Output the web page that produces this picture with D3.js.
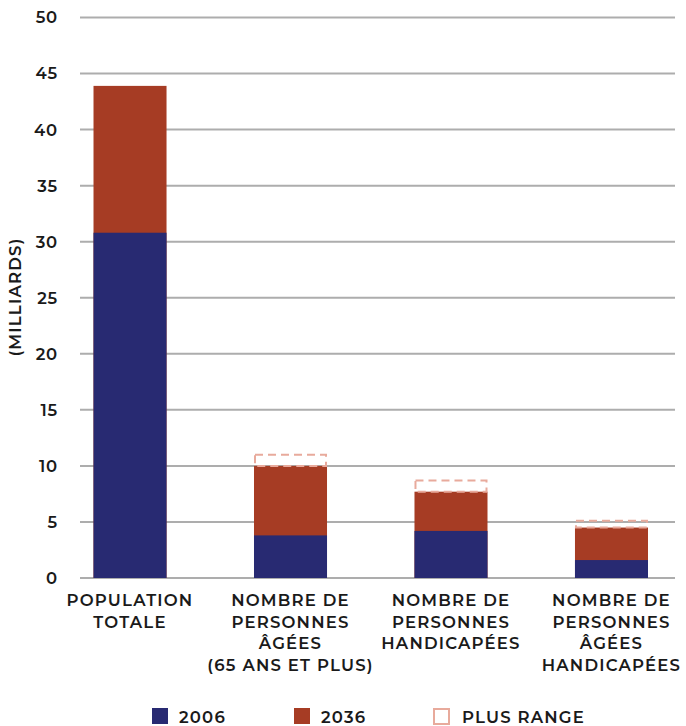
<!DOCTYPE html>
<html><head><meta charset="utf-8">
<script src="https://cdn.jsdelivr.net/npm/d3@7"></script>
<style>
html,body{margin:0;padding:0;background:#fff;}
svg{display:block;font-family:"Montserrat","Noto Sans",sans-serif;}
</style></head>
<body><svg id="c" width="686" height="726"></svg>
<script>
const categories = [
  ["POPULATION","TOTALE"],
  ["NOMBRE DE","PERSONNES","ÂGÉES","(65 ANS ET PLUS)"],
  ["NOMBRE DE","PERSONNES","HANDICAPÉES"],
  ["NOMBRE DE","PERSONNES","ÂGÉES","HANDICAPÉES"]
];
const values2006 = [30.8, 3.8, 4.2, 1.6];
const values2036 = [43.9, 10.0, 7.7, 4.5];
const plusRange = [null, 11.0, 8.7, 5.1];
const yTicks = [0,5,10,15,20,25,30,35,40,45,50];
const legendLabels = ["2006","2036","PLUS RANGE"];

const C2006 = "#282a72", C2036 = "#a63c24", CRANGE = "#e8aa9c", TXT = "#1a1a1a";
const svg = d3.select("#c");
const y = d3.scaleLinear().domain([0,50]).range([578,17.5]);
const x = d3.scaleBand().domain(d3.range(categories.length)).range([78.5,663]).paddingInner(0.545).paddingOuter(0.0935);

// grid
svg.append("g").selectAll("line").data(yTicks).join("line")
  .attr("x1",80).attr("x2",675).attr("y1",d=>y(d)).attr("y2",d=>y(d))
  .attr("stroke","#adadad").attr("stroke-width",2);

// y labels
svg.append("g").selectAll("text").data(yTicks).join("text")
  .attr("x",58).attr("y",d=>y(d)).attr("dy","0.36em").attr("text-anchor","end")
  .attr("font-size",16.5).attr("font-weight",600).attr("letter-spacing",0.8).attr("fill",TXT).text(d=>d);

svg.append("text").attr("transform","translate(21,297) rotate(-90)")
  .attr("text-anchor","middle").attr("font-size",16.5).attr("font-weight",600).attr("letter-spacing",1.2).attr("fill",TXT).text("(MILLIARDS)");

const bars = svg.append("g");
bars.selectAll("rect.b36").data(values2036).join("rect").attr("class","b36")
  .attr("x",(d,i)=>x(i)).attr("width",x.bandwidth()).attr("y",d=>y(d)).attr("height",d=>y(0)-y(d)).attr("fill",C2036);
bars.selectAll("rect.b06").data(values2006).join("rect").attr("class","b06")
  .attr("x",(d,i)=>x(i)).attr("width",x.bandwidth()).attr("y",d=>y(d)).attr("height",d=>y(0)-y(d)).attr("fill",C2006);
bars.selectAll("rect.pr").data(plusRange.map((d,i)=>({d,i})).filter(o=>o.d!=null)).join("rect").attr("class","pr")
  .attr("x",o=>x(o.i)+1).attr("width",x.bandwidth()-2).attr("y",o=>y(o.d)).attr("height",o=>y(values2036[o.i])-y(o.d))
  .attr("fill","none").attr("stroke",CRANGE).attr("stroke-width",2).attr("stroke-dasharray","8,5");

// x labels
const xl = svg.append("g");
categories.forEach((lines,i)=>{
  const t = xl.append("text").attr("text-anchor","middle").attr("font-size",16.5).attr("font-weight",600).attr("letter-spacing",1.2).attr("fill",TXT);
  lines.forEach((l,j)=>{
    t.append("tspan").attr("x",x(i)+x.bandwidth()/2).attr("y",606+j*21.6).text(l);
  });
});

// legend
const lg = svg.append("g");
const lx = [152, 294, 433];
lg.append("rect").attr("x",lx[0]).attr("y",708).attr("width",16).attr("height",16).attr("fill",C2006);
lg.append("rect").attr("x",lx[1]).attr("y",708).attr("width",16).attr("height",16).attr("fill",C2036);
lg.append("rect").attr("x",lx[2]+1).attr("y",709).attr("width",15).attr("height",15).attr("fill","none").attr("stroke",CRANGE).attr("stroke-width",2);
legendLabels.forEach((t,i)=>{
  lg.append("text").attr("x",lx[i]+(i==2?29:27)).attr("y",723).attr("font-size",16.5).attr("font-weight",600).attr("letter-spacing",1.2).attr("fill",TXT).text(t);
});
</script></body></html>
